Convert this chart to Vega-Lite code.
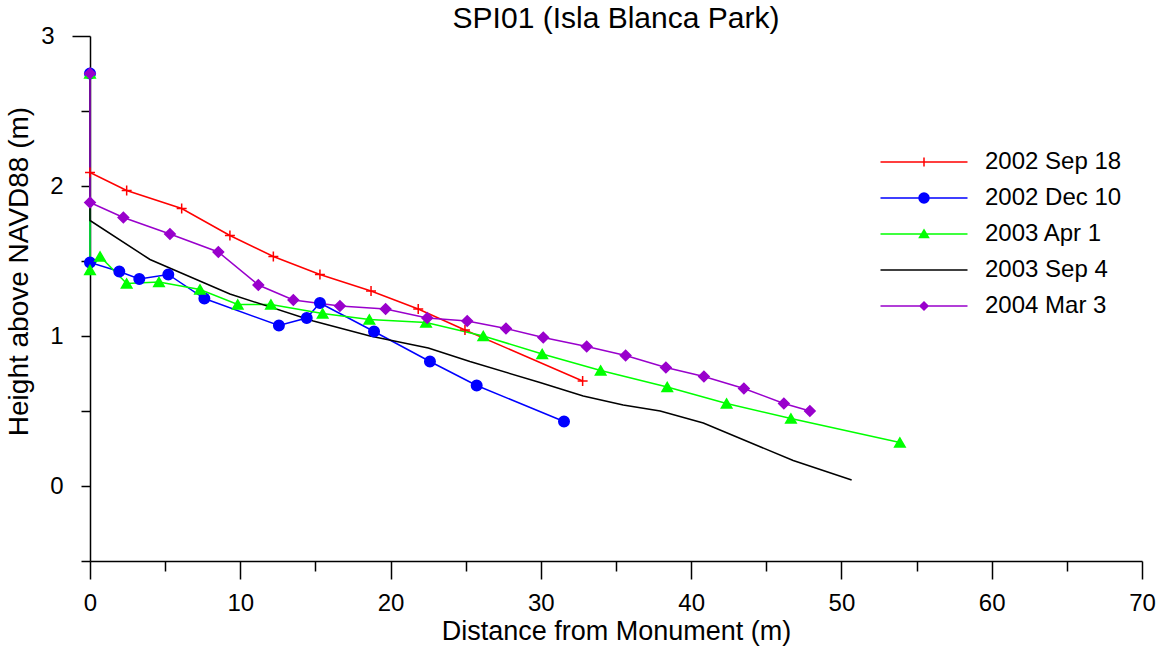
{
  "$schema": "https://vega.github.io/schema/vega-lite/v6.json",
  "width": 1052,
  "height": 525,
  "autosize": "none",
  "padding": {"left": 90, "top": 36, "right": 22, "bottom": 87},
  "background": "white",
  "title": {"text": "SPI01 (Isla Blanca Park)", "fontSize": 30, "fontWeight": "normal", "font": "Liberation Sans", "color": "black", "anchor": "middle", "offset": -10},
  "config": {
    "font": "Liberation Sans",
    "view": {"stroke": null},
    "axis": {"domainColor": "black", "tickColor": "black", "domainWidth": 1.5, "tickWidth": 1.5, "labelColor": "black", "titleColor": "black", "labelFontSize": 24, "titleFontSize": 27, "titleFontWeight": "normal", "grid": false, "labelOverlap": false, "labelFlush": false, "labelBound": false}
  },
  "data": {"values": [
    {"s": "2002 Sep 18", "i": 0, "x": 0, "y": 2.75},
    {"s": "2002 Sep 18", "i": 1, "x": 0, "y": 2.09},
    {"s": "2002 Sep 18", "i": 2, "x": 2.44, "y": 1.97},
    {"s": "2002 Sep 18", "i": 3, "x": 6.10, "y": 1.85},
    {"s": "2002 Sep 18", "i": 4, "x": 9.31, "y": 1.67},
    {"s": "2002 Sep 18", "i": 5, "x": 12.20, "y": 1.53},
    {"s": "2002 Sep 18", "i": 6, "x": 15.30, "y": 1.41},
    {"s": "2002 Sep 18", "i": 7, "x": 18.70, "y": 1.30},
    {"s": "2002 Sep 18", "i": 8, "x": 21.84, "y": 1.18},
    {"s": "2002 Sep 18", "i": 9, "x": 24.95, "y": 1.04},
    {"s": "2002 Sep 18", "i": 10, "x": 32.78, "y": 0.70},
    {"s": "2002 Dec 10", "i": 0, "x": 0, "y": 2.75},
    {"s": "2002 Dec 10", "i": 1, "x": 0, "y": 1.49},
    {"s": "2002 Dec 10", "i": 2, "x": 1.95, "y": 1.43},
    {"s": "2002 Dec 10", "i": 3, "x": 3.28, "y": 1.38},
    {"s": "2002 Dec 10", "i": 4, "x": 5.21, "y": 1.41},
    {"s": "2002 Dec 10", "i": 5, "x": 7.61, "y": 1.25},
    {"s": "2002 Dec 10", "i": 6, "x": 12.57, "y": 1.07},
    {"s": "2002 Dec 10", "i": 7, "x": 14.42, "y": 1.12},
    {"s": "2002 Dec 10", "i": 8, "x": 15.30, "y": 1.22},
    {"s": "2002 Dec 10", "i": 9, "x": 18.90, "y": 1.03},
    {"s": "2002 Dec 10", "i": 10, "x": 22.62, "y": 0.83},
    {"s": "2002 Dec 10", "i": 11, "x": 25.73, "y": 0.67},
    {"s": "2002 Dec 10", "i": 12, "x": 31.54, "y": 0.43},
    {"s": "2003 Apr 1", "i": 0, "x": 0, "y": 2.75},
    {"s": "2003 Apr 1", "i": 1, "x": 0, "y": 1.44},
    {"s": "2003 Apr 1", "i": 2, "x": 0.67, "y": 1.53},
    {"s": "2003 Apr 1", "i": 3, "x": 2.44, "y": 1.35},
    {"s": "2003 Apr 1", "i": 4, "x": 4.59, "y": 1.36},
    {"s": "2003 Apr 1", "i": 5, "x": 7.32, "y": 1.31},
    {"s": "2003 Apr 1", "i": 6, "x": 9.83, "y": 1.21},
    {"s": "2003 Apr 1", "i": 7, "x": 12.04, "y": 1.21},
    {"s": "2003 Apr 1", "i": 8, "x": 15.48, "y": 1.15},
    {"s": "2003 Apr 1", "i": 9, "x": 18.59, "y": 1.11},
    {"s": "2003 Apr 1", "i": 10, "x": 22.36, "y": 1.09},
    {"s": "2003 Apr 1", "i": 11, "x": 26.17, "y": 1.00},
    {"s": "2003 Apr 1", "i": 12, "x": 30.09, "y": 0.88},
    {"s": "2003 Apr 1", "i": 13, "x": 33.98, "y": 0.77},
    {"s": "2003 Apr 1", "i": 14, "x": 38.41, "y": 0.66},
    {"s": "2003 Apr 1", "i": 15, "x": 42.36, "y": 0.55},
    {"s": "2003 Apr 1", "i": 16, "x": 46.64, "y": 0.45},
    {"s": "2003 Apr 1", "i": 17, "x": 53.89, "y": 0.29},
    {"s": "2003 Sep 4", "i": 0, "x": 0, "y": 2.75},
    {"s": "2003 Sep 4", "i": 1, "x": 0, "y": 1.77},
    {"s": "2003 Sep 4", "i": 2, "x": 3.99, "y": 1.51},
    {"s": "2003 Sep 4", "i": 3, "x": 9.31, "y": 1.28},
    {"s": "2003 Sep 4", "i": 4, "x": 14.86, "y": 1.10},
    {"s": "2003 Sep 4", "i": 5, "x": 18.63, "y": 1.00},
    {"s": "2003 Sep 4", "i": 6, "x": 22.51, "y": 0.92},
    {"s": "2003 Sep 4", "i": 7, "x": 25.28, "y": 0.83},
    {"s": "2003 Sep 4", "i": 8, "x": 29.94, "y": 0.69},
    {"s": "2003 Sep 4", "i": 9, "x": 32.82, "y": 0.60},
    {"s": "2003 Sep 4", "i": 10, "x": 35.48, "y": 0.54},
    {"s": "2003 Sep 4", "i": 11, "x": 37.94, "y": 0.50},
    {"s": "2003 Sep 4", "i": 12, "x": 40.81, "y": 0.42},
    {"s": "2003 Sep 4", "i": 13, "x": 46.79, "y": 0.17},
    {"s": "2003 Sep 4", "i": 14, "x": 50.68, "y": 0.04},
    {"s": "2004 Mar 3", "i": 0, "x": 0, "y": 2.75},
    {"s": "2004 Mar 3", "i": 1, "x": 0, "y": 1.89},
    {"s": "2004 Mar 3", "i": 2, "x": 2.22, "y": 1.79},
    {"s": "2004 Mar 3", "i": 3, "x": 5.32, "y": 1.68},
    {"s": "2004 Mar 3", "i": 4, "x": 8.54, "y": 1.56},
    {"s": "2004 Mar 3", "i": 5, "x": 11.20, "y": 1.34},
    {"s": "2004 Mar 3", "i": 6, "x": 13.53, "y": 1.24},
    {"s": "2004 Mar 3", "i": 7, "x": 16.63, "y": 1.20},
    {"s": "2004 Mar 3", "i": 8, "x": 19.67, "y": 1.18},
    {"s": "2004 Mar 3", "i": 9, "x": 22.44, "y": 1.12},
    {"s": "2004 Mar 3", "i": 10, "x": 25.10, "y": 1.10},
    {"s": "2004 Mar 3", "i": 11, "x": 27.68, "y": 1.05},
    {"s": "2004 Mar 3", "i": 12, "x": 30.16, "y": 0.99},
    {"s": "2004 Mar 3", "i": 13, "x": 33.05, "y": 0.93},
    {"s": "2004 Mar 3", "i": 14, "x": 35.64, "y": 0.87},
    {"s": "2004 Mar 3", "i": 15, "x": 38.32, "y": 0.79},
    {"s": "2004 Mar 3", "i": 16, "x": 40.85, "y": 0.73},
    {"s": "2004 Mar 3", "i": 17, "x": 43.51, "y": 0.65},
    {"s": "2004 Mar 3", "i": 18, "x": 46.17, "y": 0.55},
    {"s": "2004 Mar 3", "i": 19, "x": 47.90, "y": 0.50}
  ]},
  "encoding": {
    "x": {"field": "x", "type": "quantitative", "scale": {"domain": [0, 70], "nice": false, "zero": false},
      "axis": {"title": "Distance from Monument (m)", "values": [0,5,10,15,20,25,30,35,40,45,50,55,60,65,70],
        "tickSize": {"condition": {"test": "datum.value % 10 === 0", "value": 18}, "value": 10},
        "labelExpr": "datum.value % 10 === 0 ? datum.label : ''", "labelPadding": 12, "titlePadding": 3}},
    "y": {"field": "y", "type": "quantitative", "scale": {"domain": [-0.5, 3], "nice": false, "zero": false},
      "axis": {"title": "Height above NAVD88 (m)", "titleFontSize": 28, "titleY": 235, "values": [-0.5,0,0.5,1,1.5,2,2.5,3],
        "tickSize": {"condition": {"test": "datum.value === 3", "value": 18}, "value": 9},
        "labelExpr": "datum.value % 1 === 0 ? format(datum.value, 'd') : ''", "labelPadding": 18, "titlePadding": 7}}
  },
  "layer": [
    {
      "mark": {"type": "line", "strokeWidth": 1.5},
      "encoding": {
        "order": {"field": "i", "type": "quantitative"},
        "color": {"field": "s", "type": "nominal", "title": null,
          "scale": {"domain": ["2002 Sep 18", "2002 Dec 10", "2003 Apr 1", "2003 Sep 4", "2004 Mar 3"], "range": ["#FF0000", "#0000FF", "#00FF00", "#000000", "#9900CC"]},
          "legend": {"orient": "none", "legendX": 822, "legendY": 114, "padding": 0, "labelFontSize": 24, "labelColor": "black", "symbolSize": 100, "symbolStrokeWidth": 1.5, "symbolOffset": 0, "labelOffset": 49, "rowPadding": 12,
            "encode": {"symbols": {"update": {
              "shape": {"signal": "datum.value === '2002 Sep 18' ? 'M-8.7,0H8.7M0,-0.9V0.9' : datum.value === '2002 Dec 10' ? 'M-8.7,0H8.7M-1,0A1,1,0,1,0,1,0A1,1,0,1,0,-1,0Z' : datum.value === '2003 Apr 1' ? 'M-8.7,0H8.7M0,-0.8L0.9,0.7L-0.9,0.7Z' : datum.value === '2004 Mar 3' ? 'M-8.7,0H8.7M0,-0.8L0.8,0L0,0.8L-0.8,0Z' : 'M-8.7,0H8.7'"},
              "fill": {"signal": "scale('color', datum.value)"},
              "stroke": {"signal": "scale('color', datum.value)"},
              "strokeWidth": {"value": 1.5},
              "size": {"value": 100},
              "opacity": {"value": 1}
            }}}}
        }
      }
    },
    {
      "transform": [{"filter": "datum.s !== '2003 Sep 4'"}],
      "mark": {"type": "point", "filled": true, "opacity": 1, "strokeWidth": 1.5, "size": 110},
      "encoding": {
        "color": {"field": "s", "type": "nominal", "legend": null},
        "stroke": {"field": "s", "type": "nominal", "legend": null,
          "scale": {"domain": ["2002 Sep 18", "2002 Dec 10", "2003 Apr 1", "2004 Mar 3"], "range": ["#FF0000", "#0000FF", "#00FF00", "#9900CC"]}},
        "shape": {"field": "s", "type": "nominal", "legend": null,
          "scale": {"domain": ["2002 Sep 18", "2002 Dec 10", "2003 Apr 1", "2004 Mar 3"], "range": ["M-0.95,0H0.95M0,-0.95V0.95", "circle", "triangle-up", "diamond"]}}
      }
    }
  ]
}
